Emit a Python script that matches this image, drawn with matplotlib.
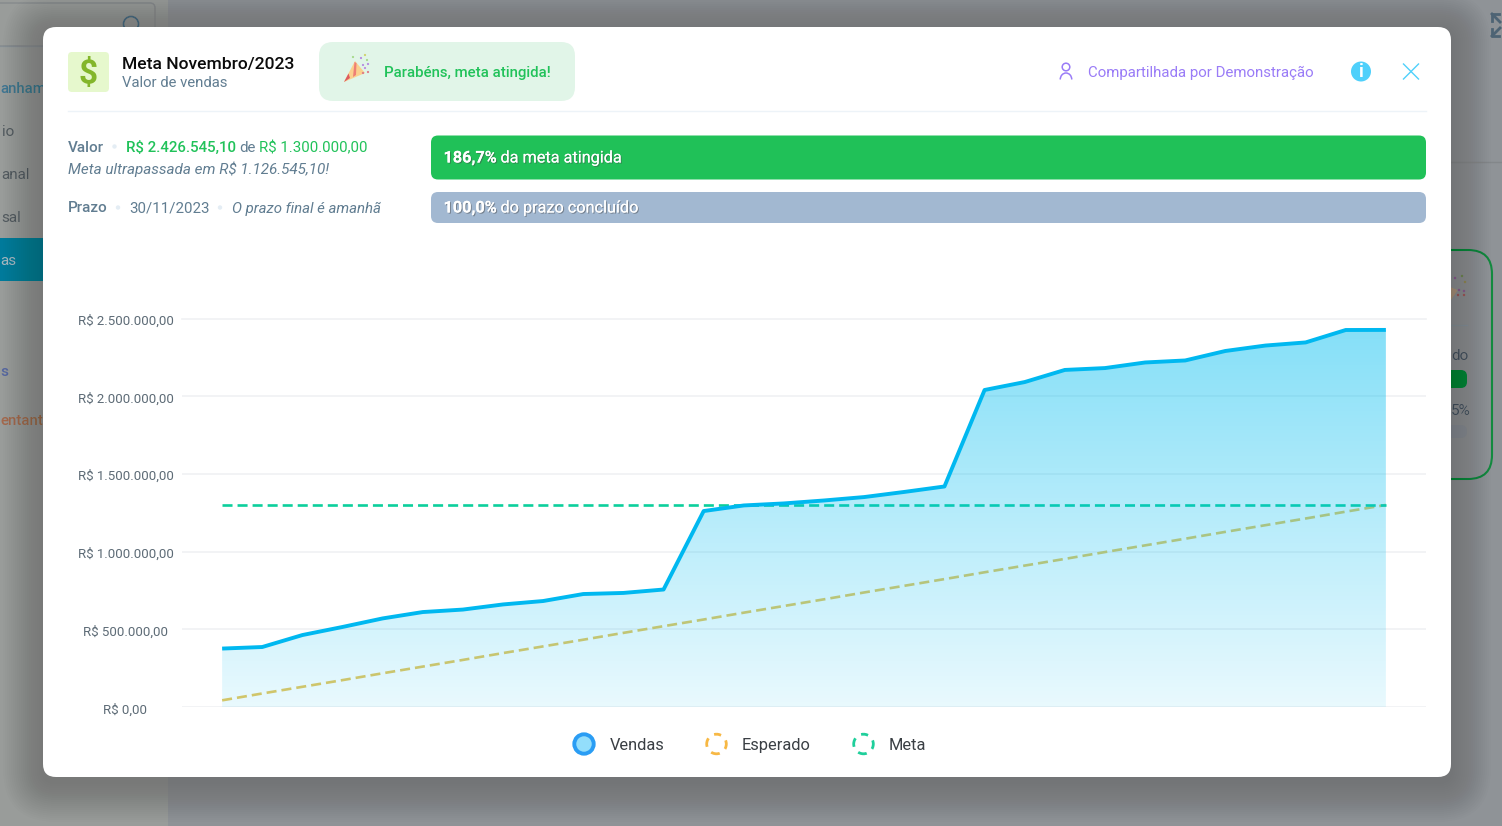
import numpy as np
import matplotlib
matplotlib.use("Agg")
import matplotlib.pyplot as plt
import matplotlib.patheffects as pe
from matplotlib.patches import FancyBboxPatch, Circle, Polygon, Arc, Rectangle
from matplotlib.ticker import FixedLocator, FixedFormatter
from matplotlib.transforms import ScaledTranslation

plt.rcParams['font.family'] = ['Roboto', 'DejaVu Sans']

# chart data
dias = list(range(1, 31))
vendas = [376000, 386000, 463000, 515000, 570000, 611000, 627000, 660000, 682000, 727000,
          734000, 756000, 1261000, 1297000, 1310000, 1329000, 1351000, 1384000, 1419000, 2040000,
          2091000, 2169000, 2181000, 2217000, 2230000, 2291000, 2326000, 2346000, 2426000, 2426545]
esperado = [43000, 87000, 130000, 173000, 217000, 260000, 303000, 347000, 390000, 433000,
            477000, 520000, 563000, 607000, 650000, 693000, 737000, 780000, 823000, 867000,
            910000, 953000, 997000, 1040000, 1083000, 1127000, 1170000, 1213000, 1257000, 1300000]
meta = [1300000] * 30
y_ticks = [0, 500000, 1000000, 1500000, 2000000, 2500000]
y_labels = ["R$ 0,00", "R$ 500.000,00", "R$ 1.000.000,00", "R$ 1.500.000,00",
            "R$ 2.000.000,00", "R$ 2.500.000,00"]
legend_names = ["Vendas", "Esperado", "Meta"]

W, H = 1502, 826
fig = plt.figure(figsize=(W / 100, H / 100), dpi=100, facecolor="#8f9397")

# page layer, coordinates in pixels
ui = fig.add_axes([0, 0, 1, 1])
ui.set_xlim(0, W)
ui.set_ylim(H, 0)
ui.axis("off")


def box(x, y, w, h, r, color, z=1, **kw):
    p = FancyBboxPatch((x + r, y + r), w - 2 * r, h - 2 * r, boxstyle=f"round,pad={r}",
                       fc=color, ec=kw.pop("ec", "none"), zorder=z, **kw)
    ui.add_patch(p)
    return p


def txt(x, y, s, size=11, color="#5f7a8e", z=6, **kw):
    return ui.text(x, y, s, fontsize=size, color=color, va="baseline", ha=kw.pop("ha", "left"), zorder=z, **kw)


# page behind the modal
ui.add_patch(Rectangle((0, 0), 168, H, fc="#999c9a", ec="none", zorder=0))
ui.add_patch(Rectangle((0, 238), 50, 43, fc="#007a9b", ec="none", zorder=1))
ui.plot([0, 168], [46, 46], color="#8b9aa3", lw=1, zorder=1)
box(-20, 3, 175, 43, 5, "none", z=1, ec="#858a8d", lw=1)
ui.add_patch(Circle((131, 24), 7.5, fc="none", ec="#4d6b80", lw=1.3, zorder=1))
ui.plot([1450, W], [162, 162], color="#83878a", lw=1, zorder=1)
txt(0, 93, "anham", 10.8, "#3f7592", weight="medium", z=1)
txt(2, 136, "io", 11, "#525a5f", z=1)
txt(1, 179, "anal", 11, "#525a5f", z=1)
txt(1, 222, "sal", 11, "#525a5f", z=1)
txt(0, 265, "as", 11, "#a8b9c0", z=2)
txt(0, 376, "s", 11, "#5566a0", weight="medium", z=1)
txt(0, 425, "entante", 10.8, "#a4684c", weight="medium", z=1)
box(1380, 250, 112, 229, 24, "none", z=1, ec="#138a3f", lw=1.5)
txt(1451, 360, "do", 11, "#4a5560", z=1)
box(1400, 370, 67, 18, 6, "#0f8a3d", z=1)
txt(1451, 415, "5%", 11, "#4a5560", z=1)
box(1400, 425, 67, 13, 6, "#858d99", z=1)
ui.plot([1440, 1467], [325, 325], color="#8496a0", lw=1, zorder=1)
ui.add_patch(Polygon([(1440, 283), (1458, 290), (1451, 300)], fc="#b39a78", ec="none", zorder=1))
for cx, cy, c in [(1455, 278, "#8d5f96"), (1462, 276, "#6f8a55"), (1465, 282, "#9a8a55"), (1459, 290, "#8d5f96"),
                  (1464, 291, "#8d5f96"), (1458, 295, "#a85a5a"), (1464, 295, "#a85a5a")]:
    ui.add_patch(Circle((cx, cy), 1.3, fc=c, ec="none", zorder=1))
# expand icon, top right
ui.plot([1492, 1500], [14, 22], color="#4d6374", lw=2, zorder=1)
ui.plot([1492, 1492, 1499], [21, 14, 14], color="#4d6374", lw=2, zorder=1)
ui.plot([1492, 1500], [36, 28], color="#4d6374", lw=2, zorder=1)
ui.plot([1492, 1492, 1499], [29, 36, 36], color="#4d6374", lw=2, zorder=1)

# modal shadow, then modal
for i in range(20):
    sp = 40 - i * 2
    box(43 - sp, 27 - sp + 5, 1408 + 2 * sp, 750 + 2 * sp, 13 + sp, "#000000", z=2, alpha=0.009)
box(43, 27, 1408, 750, 13, "white", z=3)

# header
box(68, 52, 41, 40, 4, "#e6f8cd", z=4)
txt(88.5, 83, "$", 24, "#83b62a", ha="center", weight="bold")
txt(122, 69, "Meta Novembro/2023", 12.6, "#0b0b0b", weight="medium")
txt(122, 87, "Valor de vendas", 10.7, "#617d91")
box(319, 42, 256, 59, 14, "#e1f5e8", z=4)
txt(384, 77, "Parabéns, meta atingida!", 10.8, "#21c25a", weight="medium")

# party popper
ui.add_patch(Polygon([(344, 82), (355, 61), (365, 73)], fc="#fbd08e", ec="none", zorder=5))
ui.add_patch(Polygon([(344, 82), (348.5, 73.5), (350, 78)], fc="#dd5a5f", ec="none", zorder=6))
ui.add_patch(Polygon([(353, 77), (356, 75), (356.5, 63), (354.5, 62)], fc="#ee7f76", ec="none", zorder=6))
for cx, cy, c in [(353, 57, "#a6d98a"), (361, 58, "#b58ae0"), (365, 55, "#cfd06a"), (367, 60, "#a6d98a"),
                  (363, 65, "#b58ae0"), (368, 64, "#b58ae0"), (365, 68, "#c08ae0"), (368, 72, "#dd7a88"),
                  (363, 73, "#dd7a88")]:
    ui.add_patch(Circle((cx, cy), 1.1, fc=c, ec="none", zorder=6))

# shared by
ui.add_patch(Circle((1066, 67), 3.8, fc="none", ec="#9a7cf7", lw=1.1, zorder=5))
ui.add_patch(Arc((1066, 79.5), 11.5, 13, theta1=180, theta2=360, ec="#9a7cf7", lw=1.1, zorder=5))
txt(1087.5, 77, "Compartilhada por Demonstração", 10.8, "#9a7cf7")
ui.add_patch(Circle((1361, 71.5), 10, fc="#4fd0fb", ec="none", zorder=5))
ui.text(1361, 72, "i", fontsize=13, color="white", ha="center", va="center", weight="bold", zorder=6)
ui.plot([1403.5, 1418.5], [64, 79], color="#4fd0fb", lw=1, zorder=5)
ui.plot([1403.5, 1418.5], [79, 64], color="#4fd0fb", lw=1, zorder=5)
ui.plot([68, 1426], [110.5, 110.5], color="#edf3f8", lw=1, zorder=4)

# value / deadline block
txt(68, 152, "Valor", 11, "#617d91", weight="medium")
ui.add_patch(Circle((114.5, 146.5), 2.2, fc="#e4edf4", ec="none", zorder=5))
txt(126, 152, "R$ 2.426.545,10", 10.85, "#21c25a", weight="medium")
txt(239, 152, "de", 10.85, "#617d91")
txt(259, 152, "R$ 1.300.000,00", 10.85, "#21c25a")
txt(68, 174, "Meta ultrapassada em R$ 1.126.545,10!", 10.95, "#617d91", style="italic")
txt(68, 212.5, "Prazo", 11, "#617d91", weight="medium")
ui.add_patch(Circle((118, 207.5), 2.2, fc="#e4edf4", ec="none", zorder=5))
txt(129, 212.5, "30/11/2023", 10.85, "#617d91")
ui.add_patch(Circle((220, 207.5), 2.2, fc="#e4edf4", ec="none", zorder=5))
txt(232, 212.5, "O prazo final é amanhã", 10.8, "#617d91", style="italic")

# progress bars
box(431, 135.5, 995, 44, 7, "#20c158", z=4)
box(431, 192, 995, 31, 7, "#a2b8d1", z=4)
shadow = [pe.withSimplePatchShadow(offset=(0.8, -0.8), shadow_rgbFace="#444444", alpha=0.45), pe.Normal()]
for x, y, s, w in [(443.5, 162.5, "186,7%", "bold"), (443.5, 212.5, "100,0%", "bold")]:
    t = txt(x, y, s, 11.7, "white", weight=w)
    t.set_path_effects(shadow)
t = txt(500.5, 162.5, "da meta atingida", 11.7, "white")
t.set_path_effects(shadow)
t = txt(500.5, 212.5, "do prazo concluído", 11.7, "white")
t.set_path_effects(shadow)

# chart
x0, x1, y_top, y_bot = 182, 1426, 318.5, 707
ax = fig.add_axes([x0 / W, 1 - y_bot / H, (x1 - x0) / W, (y_bot - y_top) / H], zorder=5)
ax.patch.set_alpha(0)
ax.set_xlim(0, 31)
ax.set_ylim(0, 2500000)
for s in ax.spines.values():
    s.set_visible(False)
ax.set_xticks([])
ax.yaxis.set_major_locator(FixedLocator(y_ticks))
ax.yaxis.set_major_formatter(FixedFormatter(y_labels))
ax.tick_params(axis="y", length=0, pad=40.7, labelsize=9.5, labelcolor="#5d6b76")
for lab in ax.get_yticklabels():
    lab.set_ha("center")
    lab.set_transform(lab.get_transform() + ScaledTranslation(0, -1.2 / 100, fig.dpi_scale_trans))
ax.grid(axis="y", color="#f0f1f3", lw=1.2, zorder=0)
ax.set_axisbelow(True)
ax.yaxis.get_gridlines()[-1].set_clip_on(False)

# reference lines sit under the area tint
ax.plot(dias, esperado, color="#e8c75c", lw=1.9, ls=(0, (3.8, 1.9)), zorder=1)
ax.plot(dias, meta, color="#0ccf9c", lw=1.9, ls=(0, (3.8, 1.9)), zorder=1)

# area with a vertical gradient
area = ax.fill_between(dias, vendas, 0, color="none", lw=0)
grad = np.zeros((256, 1, 4))
grad[..., 0] = 0.0
grad[..., 1] = 0.745
grad[..., 2] = 0.945
grad[:, 0, 3] = np.linspace(0.48, 0.09, 256)
img = ax.imshow(grad, extent=(1, 30, 0, max(vendas)), aspect="auto", zorder=2, interpolation="bilinear")
img.set_clip_path(area.get_paths()[0], transform=ax.transData)
ax.set_xlim(0, 31)
ax.set_ylim(0, 2500000)

ax.plot(dias, vendas, color="#00b8f0", lw=2.8, zorder=4, solid_joinstyle="round", solid_capstyle="butt")

# legend
ui.add_patch(Circle((584, 744), 9.7, fc="#93defb", ec="#2a9df4", lw=2.8, zorder=5))
txt(609.5, 750, legend_names[0], 11.8, "#3a3f44")
ui.add_patch(Circle((716.5, 744), 9.8, fc="none", ec="#f7b844", lw=2, ls=(1.5, (3.2, 2.5)), zorder=5))
txt(742, 750, legend_names[1], 11.8, "#3a3f44")
ui.add_patch(Circle((863.5, 744), 9.8, fc="none", ec="#1fcf9b", lw=2, ls=(1.5, (3.2, 2.5)), zorder=5))
txt(889, 750, legend_names[2], 11.8, "#3a3f44")

fig.savefig("out.png", dpi=100, facecolor=fig.get_facecolor())
